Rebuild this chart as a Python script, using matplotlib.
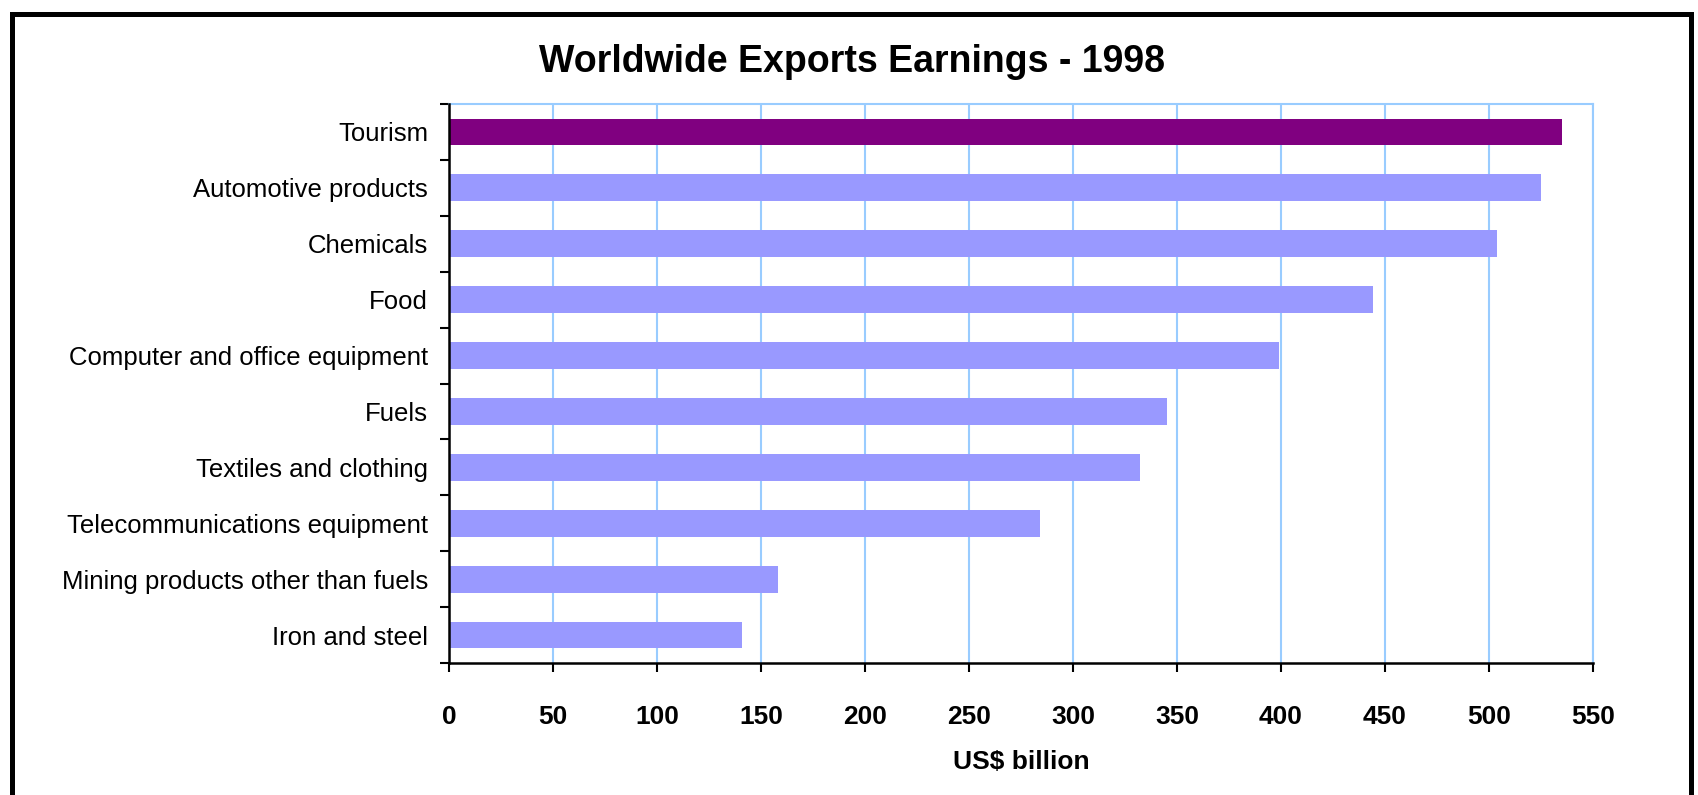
import matplotlib.pyplot as plt
import numpy as np
from matplotlib.patches import Rectangle

plt.rcParams['font.family'] = ['Liberation Sans', 'DejaVu Sans']

categories = ["Tourism", "Automotive products", "Chemicals", "Food",
              "Computer and office equipment", "Fuels", "Textiles and clothing",
              "Telecommunications equipment", "Mining products other than fuels",
              "Iron and steel"]
earnings = [535, 525, 504, 444, 399, 345, 332, 284, 158, 141]
highlight = "Tourism"
xticks = list(range(0, 551, 50))

purple = "#800080"
lavender = "#9999FF"
grid_blue = "#99CCFF"

fig = plt.figure(figsize=(16.98, 7.95), dpi=100)
ax = fig.add_axes([0.2644, 0.166, 0.6738, 0.7032])

ypos = np.arange(len(categories))
colors = [purple if c == highlight else lavender for c in categories]
ax.barh(ypos, earnings, height=0.48, color=colors, zorder=3)

ax.set_xlim(0, 550)
ax.set_ylim(len(categories) - 0.5, -0.5)
ax.set_xticks(xticks)
ax.set_xticklabels([str(t) for t in xticks], fontsize=19, fontweight='bold')
ax.set_yticks(ypos)
ax.set_yticklabels(categories, fontsize=18.5)
ax.set_yticks(np.arange(-0.5, len(categories), 1.0), minor=True)

ax.tick_params(axis='y', which='major', length=0, pad=15)
ax.tick_params(axis='y', which='minor', length=6.5, width=1.5, direction='out')
ax.tick_params(axis='x', which='major', length=6.5, width=1.5, direction='out', pad=24)

ax.grid(axis='x', color=grid_blue, linewidth=1.5, zorder=0)
for side in ['top', 'right']:
    ax.spines[side].set_color(grid_blue)
    ax.spines[side].set_linewidth(1.5)
for side in ['left', 'bottom']:
    ax.spines[side].set_color('black')
    ax.spines[side].set_linewidth(1.8)
    ax.spines[side].set_zorder(4)

ax.set_xlabel("US$ billion", fontsize=19, fontweight='bold', labelpad=15)
fig.text(0.502, 0.922, "Worldwide Exports Earnings - 1998", fontsize=27,
         fontweight='bold', ha='center', va='center')

# outer frame, bottom edge runs off the picture
fig.patches.append(Rectangle((12 / 1698, -0.05), 1679 / 1698, 1.05 - 14 / 795,
                             transform=fig.transFigure, fill=False,
                             edgecolor='black', linewidth=3.6))

fig.savefig("out.png", dpi=100)
